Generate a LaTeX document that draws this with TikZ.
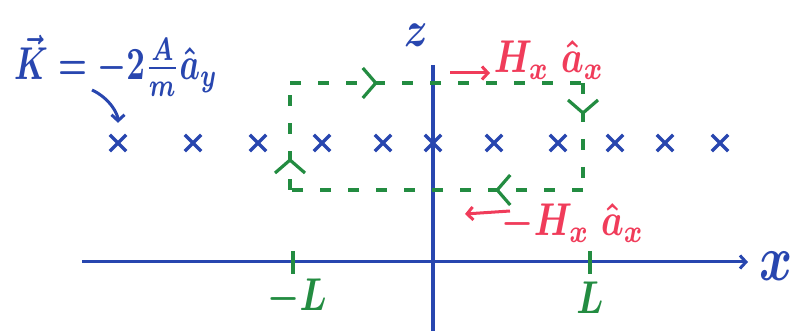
\documentclass[tikz,border=0pt]{standalone}
\usetikzlibrary{arrows.meta, decorations.markings, shapes.misc}

\definecolor{inkblue}{RGB}{40,70,175}
\definecolor{inkgreen}{RGB}{35,140,65}
\definecolor{inkred}{RGB}{240,60,90}

\begin{document}
\begin{tikzpicture}[x=1pt, y=-1pt,
        axis/.style={draw=inkblue, line width=3.4pt},
        wire/.style={cross out, draw=inkblue, line width=3.4pt,
                     minimum size=13pt, inner sep=0pt},
        lbl/.style={xscale=3.6, yscale=4.6, inner sep=0pt, font=\boldmath},
        tick/.style={draw=inkgreen, line width=3.2pt},
        arrow/.style={-{Straight Barb[length=6pt, width=13pt]}, line width=3pt},
        loopside/.style={draw=inkgreen, line width=3.2pt,
                         dash pattern=on 11pt off 17pt,
                         postaction={decorate, decoration={markings,
                             mark=at position 0.3 with {\arrow[inkgreen, line width=3.2pt]
                                 {Straight Barb[length=13pt, width=30pt]}}}}},
    ]
    \useasboundingbox (0,0) rectangle (798,331);

    % Stromdichte
    \node[lbl, text=inkblue, xscale=0.9] (K) at (116,66) {$\vec{K}=-2\frac{A}{m}\hat{a}_y$};

    % Flaechenstrom (Kreuze)
    \foreach \px [count=\i] in {118,193,258,322,383,433,494,558,615,665,720}
        \node[wire] (w\i) at (\px,143) {};

    \coordinate (kfrom) at (92,90);
    \draw[inkblue, arrow, shorten >=12pt] (kfrom) to[out=-25, in=90] (w1.north);

    % Achsen
    \coordinate (ztop) at (433,65);
    \coordinate (zbot) at (433,331);
    \draw[axis] (ztop) -- (zbot);
    \node[lbl, text=inkblue, scale=1.1] (zlab) at (416,35) {$z$};

    \coordinate (xleft) at (82,262);
    \coordinate (xright) at (748,262);
    \draw[axis, arrow] (xleft) -- (xright);
    \node[lbl, text=inkblue, scale=1.4] (xlab) at (776,266) {$x$};

    % Integrationsweg
    \coordinate (bl) at (290,190);
    \coordinate (tl) at (290,83);
    \coordinate (tr) at (583,83);
    \coordinate (br) at (583,190);
    \draw[loopside] (bl) -- (tl);
    \draw[loopside] (tl) -- (tr);
    \draw[loopside] (tr) -- (br);
    \draw[loopside] (br) -- (bl);

    % Marken -L und L
    \draw[tick] (293,251) -- (293,274);
    \draw[tick] (590,251) -- (590,274);
    \node[lbl, text=inkgreen] (mL) at (297,298) {$-L$};
    \node[lbl, text=inkgreen] (pL) at (590,298) {$L$};

    % Feld oben
    \node[lbl, text=inkred] (Htop) at (549,60) {$H_x\;\hat{a}_x$};
    \coordinate (htail) at (450,73);
    \coordinate (hhead) at (490,73);
    \draw[inkred, arrow] (htail) -- (hhead);

    % Feld unten
    \node[lbl, text=inkred] (Hbot) at (573,223) {$-H_x\;\hat{a}_x$};
    \coordinate (btail) at (510,211);
    \coordinate (bhead) at (465,214);
    \draw[inkred, arrow] (btail) -- (bhead);

\end{tikzpicture}
\end{document}
